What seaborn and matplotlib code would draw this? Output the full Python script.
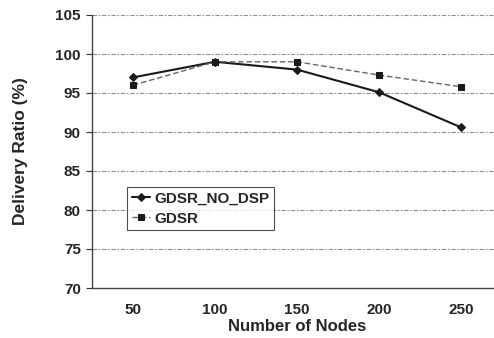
import matplotlib
matplotlib.use("Agg")
import matplotlib.pyplot as plt
import seaborn as sns
import pandas as pd
import numpy as np

nodes = ["50", "100", "150", "200", "250"]
gdsr_no_dsp = [97.0, 99.0, 98.0, 95.1, 90.6]
gdsr = [96.0, 99.0, 99.0, 97.3, 95.8]
y_ticks = [70, 75, 80, 85, 90, 95, 100, 105]

sns.set_theme(style="white")
plt.rcParams['font.family'] = ['Liberation Sans', 'DejaVu Sans']
plt.rcParams['font.weight'] = 'bold'

df = pd.DataFrame({
    "Nodes": nodes * 2,
    "Ratio": gdsr_no_dsp + gdsr,
    "Series": ["GDSR_NO_DSP"] * 5 + ["GDSR"] * 5,
})

fig = plt.figure(figsize=(4.94, 3.38), dpi=100)
ax = fig.add_axes([92/494, 1-288/338, (502-92)/494, (288-15)/338])

for yv in y_ticks[1:]:
    ax.axhline(yv, color="#8f8f8f", lw=0.8, ls=(0, (4, 1.5, 1.5, 1.5)), zorder=0)

sns.lineplot(data=df[df.Series == "GDSR_NO_DSP"], x="Nodes", y="Ratio", ax=ax,
             color="#1a1a1a", lw=1.5, marker="D", markersize=4.5, markeredgecolor="#1a1a1a",
             label="GDSR_NO_DSP", sort=False)
sns.lineplot(data=df[df.Series == "GDSR"], x="Nodes", y="Ratio", ax=ax,
             color="#666666", lw=1.0, ls=(0, (4, 2)), marker="s", markersize=5,
             markerfacecolor="#1a1a1a", markeredgecolor="#1a1a1a",
             label="GDSR", sort=False)

ax.set_xlim(-0.5, 4.5)
ax.set_ylim(70, 105)
ax.set_yticks(y_ticks)
ax.set_xticks(range(5))
ax.set_xticklabels(nodes)
ax.set_xticks(np.arange(-0.5, 5.0, 1.0), minor=True)
ax.tick_params(axis="x", which="major", length=0, pad=11, labelsize=11)
ax.tick_params(axis="x", which="minor", length=4, width=0.8, direction="out", color="#333333")
ax.tick_params(axis="y", length=4, width=0.8, direction="out", color="#333333", labelsize=11, left=True, pad=4)
for lab in ax.get_xticklabels() + ax.get_yticklabels():
    lab.set_fontweight("bold")

ax.set_xlabel("Number of Nodes", fontsize=12, fontweight="bold", labelpad=1)
ax.set_ylabel("Delivery Ratio (%)", fontsize=12.5, fontweight="bold", labelpad=20)

for s in ["top", "right"]:
    ax.spines[s].set_visible(False)
ax.spines["left"].set_color("#444444")
ax.spines["bottom"].set_color("#444444")
ax.spines["left"].set_linewidth(1.0)
ax.spines["bottom"].set_linewidth(1.0)

leg = ax.legend(loc="upper left", bbox_to_anchor=((127-92)/410, 1-(187-15)/273),
                frameon=True, fancybox=False, fontsize=11, handlelength=1.2,
                handletextpad=0.3, borderpad=0.3, labelspacing=0.4, borderaxespad=0)
leg.get_frame().set_edgecolor("#222222")
leg.get_frame().set_linewidth(0.8)
for t in leg.get_texts():
    t.set_fontweight("bold")

fig.savefig("out.png", dpi=100)
